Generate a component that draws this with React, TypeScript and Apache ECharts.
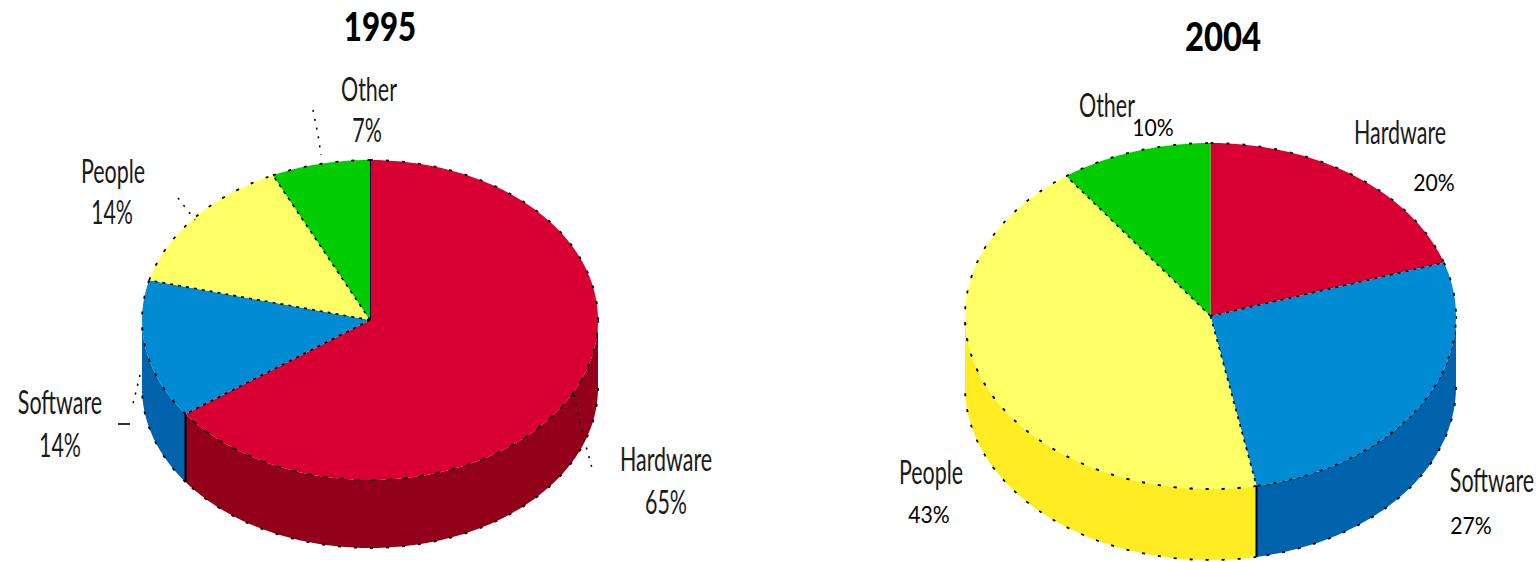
import React, { useEffect, useRef } from "react";
import * as echarts from "echarts";

const categories = ["Hardware", "Software", "People", "Other"];
const values1995 = [65, 14, 14, 7];
const values2004 = [20, 27, 43, 10];
const topColors = ["#D80032", "#008BD2", "#FFFF66", "#00CC00"];
const wallColors = ["#930019", "#0063AB", "#FFEC22", "#009900"];

const NAME_FONT = "Lato, sans-serif";
const DEG = Math.PI / 180;

type Disc = { cx: number; cy: number; rx: number; ry: number; depth: number; solidSeam: boolean };

const disc1995: Disc = { cx: 370, cy: 320, rx: 228, ry: 160, depth: 68, solidSeam: true };
const disc2004: Disc = { cx: 1210.5, cy: 316, rx: 245.5, ry: 173, depth: 71, solidSeam: false };

// Name label centres, in the order of `categories`
const nameAnchors1995 = [[666, 459], [60, 402], [113, 171], [369, 89]];
const valueAnchors1995 = [[666, 502], [60, 445], [112, 212], [367, 130]];
const nameAnchors2004 = [[1400, 132], [1492, 480], [931, 472], [1107, 105]];
const valueAnchors2004 = [[1434, 182], [1471, 525], [929, 514], [1153, 127]];

const sliceSpan = (values: number[], index: number): [number, number] => {
  const total = values.reduce((a, b) => a + b, 0);
  const before = values.slice(0, index).reduce((a, b) => a + b, 0);
  return [(before / total) * 360, ((before + values[index]) / total) * 360];
};

// Point on the rim: 0 degrees is the back of the disc, angles run clockwise
const rimPoint = (d: Disc, deg: number, drop = 0): number[] => [
  d.cx + d.rx * Math.sin(deg * DEG),
  d.cy - d.ry * Math.cos(deg * DEG) + drop,
];

const arcPoints = (d: Disc, from: number, to: number, drop = 0): number[][] => {
  const steps = Math.max(2, Math.ceil((to - from) / 2));
  const pts: number[][] = [];
  for (let i = 0; i <= steps; i++) pts.push(rimPoint(d, from + ((to - from) * i) / steps, drop));
  return pts;
};

const dotted = { stroke: "#000", lineWidth: 1.8, lineDash: [3, 13], fill: "none" };

const wallSeries = (d: Disc, values: number[]) => ({
  type: "custom",
  coordinateSystem: "none",
  silent: true,
  z: 2,
  data: values.map((v) => [v]),
  renderItem: (params: any) => {
    const [a0, a1] = sliceSpan(values, params.dataIndex);
    const from = Math.max(a0, 90);
    const to = Math.min(a1, 270);
    if (to <= from) return { type: "group", children: [] };
    const upper = arcPoints(d, from, to);
    const lower = arcPoints(d, from, to, d.depth);
    const children: any[] = [
      {
        type: "polygon",
        shape: { points: [...upper, ...lower.slice().reverse()] },
        style: { fill: wallColors[params.dataIndex] },
      },
      { type: "polyline", shape: { points: upper }, style: dotted },
      { type: "polyline", shape: { points: lower }, style: dotted },
    ];
    if (a0 > 90 && a0 < 270) {
      const [x, y] = rimPoint(d, a0);
      children.push({
        type: "line",
        shape: { x1: x, y1: y, x2: x, y2: y + d.depth },
        style: { stroke: "#000", lineWidth: 2 },
      });
    }
    return { type: "group", children };
  },
});

const faceSeries = (d: Disc, values: number[]) => ({
  type: "custom",
  coordinateSystem: "none",
  silent: true,
  z: 3,
  data: values.map((v) => [v]),
  renderItem: (params: any) => {
    const [a0, a1] = sliceSpan(values, params.dataIndex);
    const rim = arcPoints(d, a0, a1);
    const hub = [d.cx, d.cy];
    const children: any[] = [
      {
        type: "polygon",
        shape: { points: [hub, ...rim] },
        style: { fill: topColors[params.dataIndex] },
      },
      { type: "polyline", shape: { points: rim }, style: dotted },
    ];
    if (a0 > 0) {
      children.push({
        type: "polyline",
        shape: { points: [hub, rim[0]] },
        style: { stroke: "#000", lineWidth: 1.6, lineDash: [3, 5], fill: "none" },
      });
    }
    if (d.solidSeam && a0 === 0) {
      children.push({
        type: "line",
        shape: { x1: hub[0], y1: hub[1], x2: rim[0][0], y2: rim[0][1] },
        style: { stroke: "#000", lineWidth: 2 },
      });
    }
    return { type: "group", children };
  },
});

const condensed = (text: string, at: number[], fontSize: number, scaleX: number) => ({
  type: "text",
  x: at[0],
  y: at[1],
  scaleX,
  z: 10,
  style: {
    text,
    fontFamily: NAME_FONT,
    fontSize,
    fill: "#1a1a1a",
    textAlign: "center",
    textVerticalAlign: "middle",
  },
});

const plainValue = (text: string, at: number[]) => ({
  type: "text",
  x: at[0],
  y: at[1],
  scaleX: 0.92,
  z: 10,
  style: {
    text,
    fontFamily: NAME_FONT,
    fontSize: 23,
    fill: "#000",
    textAlign: "center",
    textVerticalAlign: "middle",
  },
});

const title = (text: string, x: number, y: number, scaleX: number) => ({
  type: "text",
  x,
  y,
  scaleX,
  z: 10,
  style: {
    text,
    fontFamily: NAME_FONT,
    fontWeight: 900,
    fontSize: 39,
    fill: "#000",
    textAlign: "center",
    textVerticalAlign: "middle",
  },
});

// Dotted leader lines from the 1995 labels to their slices
const leaderPaths = [
  [[313, 110], [318, 135], [321, 155]],
  [[178, 198], [195, 220]],
  [[140, 375], [132, 408]],
  [[574, 395], [581, 428], [592, 468]],
];

const leaders = leaderPaths.map((points) => ({
  type: "polyline",
  shape: { points },
  z: 9,
  style: { stroke: "#000", lineWidth: 1.6, lineDash: [2, 7], fill: "none" },
}));

export default function App() {
  const ref = useRef<HTMLDivElement>(null);

  useEffect(() => {
    if (!ref.current) return;
    const chart = echarts.init(ref.current, undefined, { renderer: "svg" });
    chart.setOption({
      animation: false,
      backgroundColor: "#fff",
      series: [
        wallSeries(disc1995, values1995),
        faceSeries(disc1995, values1995),
        wallSeries(disc2004, values2004),
        faceSeries(disc2004, values2004),
      ],
      graphic: [
        title("1995", 380, 26, 0.8),
        title("2004", 1223, 36, 0.84),
        ...leaders,
        {
          type: "line",
          z: 9,
          shape: { x1: 118, y1: 424, x2: 130, y2: 424 },
          style: { stroke: "#000", lineWidth: 1.6 },
        },
        ...categories.map((name, i) => condensed(name, nameAnchors1995[i], 33, 0.65)),
        ...values1995.map((v, i) => condensed(`${v}%`, valueAnchors1995[i], 33, 0.65)),
        ...categories.map((name, i) => condensed(name, nameAnchors2004[i], 33, 0.65)),
        ...values2004.map((v, i) => plainValue(`${v}%`, valueAnchors2004[i])),
      ],
    });
    return () => chart.dispose();
  }, []);

  return (
    <div
      ref={ref}
      style={{ position: "absolute", left: 0, top: 0, width: 1537, height: 562 }}
    />
  );
}
